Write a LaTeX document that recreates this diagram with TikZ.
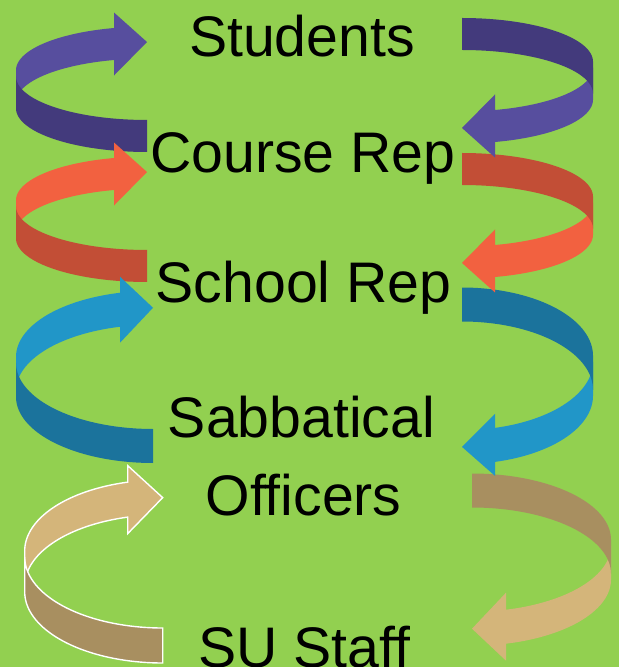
\documentclass[tikz,border=0pt]{standalone}
\usepackage{fontspec}
\setmainfont{Liberation Sans}

\definecolor{bggreen}{HTML}{92D050}
\definecolor{purpleL}{HTML}{574E9E}
\definecolor{purpleD}{HTML}{433A7C}
\definecolor{redL}{HTML}{F26140}
\definecolor{redD}{HTML}{C24E36}
\definecolor{blueL}{HTML}{2196C8}
\definecolor{blueD}{HTML}{1B739C}
\definecolor{tanL}{HTML}{D4B57A}
\definecolor{tanD}{HTML}{A88F60}

\tikzset{tier/.style={font=\fontsize{28.6}{34}\selectfont, anchor=base, inner sep=0pt}}

% curled ribbon arrow round (0,0): a, b, h, head half, head length, light, dark, extra
\newcommand{\curlarrow}[8]{%
  \pgfmathsetmacro\curlte{180+acos(#5/#1)}%
  \pgfmathsetmacro\curlxe{#1*cos(\curlte)}%
  \pgfmathsetmacro\curlye{-3+#2*sin(\curlte)}%
  \fill[#6,#8] plot[domain=180:\curlte,samples=40] ({#1*cos(\x)},{-3+#2*sin(\x)-#3/2})
    -- (\curlxe,\curlye-#4) -- (0,\curlye-2) -- (\curlxe,\curlye+#4)
    -- plot[domain=\curlte:180,samples=40] ({#1*cos(\x)},{-3+#2*sin(\x)+#3/2}) -- cycle;
  \fill[#7,#8] plot[domain=90:180,samples=40] ({#1*cos(\x)},{3+#2*sin(\x)-#3/2})
    -- plot[domain=180:90,samples=40] ({#1*cos(\x)},{3+#2*sin(\x)+#3/2}) -- cycle;
}

\begin{document}
\begin{tikzpicture}[x=0.5pt,y=-0.5pt]
  \useasboundingbox (0,0) rectangle (619,667);
  \fill[bggreen] (0,0) rectangle (619,667);

  % left side, going up
  \begin{scope}[shift={(147,89.3)}]
    \curlarrow{131}{43.7}{32}{31.5}{33}{purpleL}{purpleD}{}
  \end{scope}
  \begin{scope}[shift={(147,219.3)}]
    \curlarrow{131}{43.7}{32}{31.5}{33}{redL}{redD}{}
  \end{scope}
  \begin{scope}[shift={(153,376.9)}]
    \curlarrow{137}{66.1}{34}{33}{33}{blueL}{blueD}{}
  \end{scope}
  \begin{scope}[shift={(162.7,571.4)}]
    \curlarrow{138}{71.1}{35}{34}{35}{tanL}{tanD}{draw=white,line width=0.7pt}
  \end{scope}

  % right side, going down
  \begin{scope}[shift={(472,559.6)},rotate=180]
    \curlarrow{139}{66.1}{34}{34}{34}{tanL}{tanD}{}
  \end{scope}
  \begin{scope}[shift={(462,375.8)},rotate=180]
    \curlarrow{131}{68.3}{34}{31}{33}{blueL}{blueD}{}
  \end{scope}
  \begin{scope}[shift={(462,215.7)},rotate=180]
    \curlarrow{131}{43.7}{32}{31.5}{33}{redL}{redD}{}
  \end{scope}
  \begin{scope}[shift={(462,80.7)},rotate=180]
    \curlarrow{131}{43.7}{32}{31.5}{33}{purpleL}{purpleD}{}
  \end{scope}

  \node[tier] (students) at (302,57) {Students};
  \node[tier] (courserep) at (303,173) {Course Rep};
  \node[tier] (schoolrep) at (303.5,303) {School Rep};
  \node[tier] (sabbatical) at (301.5,437) {Sabbatical};
  \node[tier] (officers) at (303.5,515) {Officers};
  \node[tier] (sustaff) at (304,667) {SU Staff};
\end{tikzpicture}
\end{document}
